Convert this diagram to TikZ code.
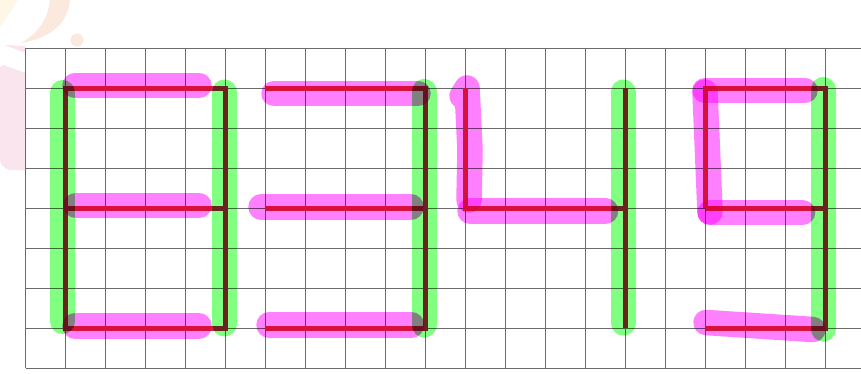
\documentclass[tikz,border=0pt]{standalone}
\begin{document}
\begin{tikzpicture}[x=1pt,y=-1pt,
  gridline/.style={draw=black!58, line width=0.9pt},
  seg/.style={draw=segred, line width=5pt, line cap=butt, line join=miter},
  hlg/.style={draw=hlgreen, line width=25pt, line cap=round, line join=round, blend mode=multiply},
  hlm/.style={draw=hlmag, line width=25.5pt, line cap=round, line join=round, blend mode=multiply}]
\definecolor{segred}{RGB}{215,35,60}
\definecolor{hlgreen}{RGB}{128,255,128}
\definecolor{hlmag}{RGB}{255,128,255}
\definecolor{wmpink}{RGB}{250,228,238}
\definecolor{wmpeach}{RGB}{251,233,222}
\definecolor{wmyellow}{RGB}{255,247,230}
\useasboundingbox (0,0) rectangle (861,373);
\fill[white] (0,0) rectangle (861,373);
% faint watermark in the upper left corner
\fill[wmyellow] (0,0) -- (18,0) .. controls (12,10) and (6,18) .. (0,27) -- cycle;
\fill[wmpeach] (21,43) .. controls (40,32) and (48,18) .. (50,0) -- (70,0)
  .. controls (68,22) and (52,38) .. cycle;
\fill[wmpeach] (77,40) circle (6.5);
\fill[wmpink] (5,45) -- (25.7,46) -- (25.7,53) -- cycle;
\fill[wmpink] (3,65) -- (25.7,73) -- (25.7,170) -- (10,170)
  .. controls (3,168) and (0,164) .. (0,158) -- (0,67) -- cycle;
% grid
\fill[white] (25.7,48.3) rectangle (861,368.3);
\foreach \i in {0,...,20} \draw[gridline] (25.7+40*\i,48.3) -- (25.7+40*\i,368.3);
\foreach \j in {0,...,8} \draw[gridline] (25.7,48.3+40*\j) -- (861,48.3+40*\j);
% digit 8
\draw[seg] (65.7,88.3) rectangle (225.7,328.3);
\draw[seg] (65.7,208.3) -- (225.7,208.3);
% digit 3
\draw[seg] (265.7,88.3) -- (425.7,88.3) -- (425.7,328.3) -- (265.7,328.3);
\draw[seg] (265.7,208.3) -- (425.7,208.3);
% digit 4
\draw[seg] (465.7,88.3) -- (465.7,208.3) -- (625.7,208.3);
\draw[seg] (625.7,88.3) -- (625.7,328.3);
% digit 9
\draw[seg] (705.7,208.3) -- (705.7,88.3) -- (825.7,88.3) -- (825.7,328.3) -- (705.7,328.3);
\draw[seg] (705.7,208.3) -- (825.7,208.3);
% highlighter strokes, digit 8
\draw[hlg] (62.5,92.5) -- (62.5,321.5);
\draw[hlg] (224.2,92) -- (224.2,324);
\draw[hlm] (75,85.5) -- (199,85.5);
\draw[hlm] (76,205.5) -- (199,205.5);
\draw[hlm] (75,326) -- (199,326);
% digit 3
\draw[hlg] (424,91.5) -- (424,325);
\draw[hlm] (274,93.5) -- (418,93.5);
\draw[hlm] (261,207) -- (411,207);
\draw[hlm] (269,325) -- (411.5,325);
% digit 4
\draw[hlm] (462,96) -- (467,88) -- (470,150) -- (469,200);
\draw[hlm] (470,211) -- (605.5,211);
\draw[hlg] (623,92) -- (623,323);
% digit 9
\draw[hlm] (705,90.5) -- (805,90.5);
\draw[hlm] (705,92) -- (710,212);
\draw[hlm] (710,212.5) -- (802.5,212.5);
\draw[hlg] (823,89.5) -- (823,329);
\draw[hlm] (706,322.5) -- (813,329.5);
\end{tikzpicture}
\end{document}
